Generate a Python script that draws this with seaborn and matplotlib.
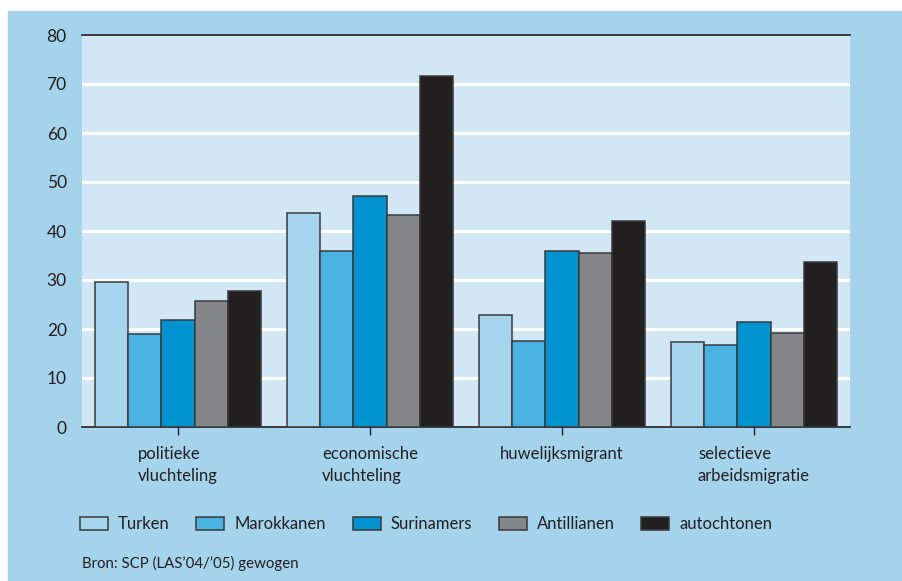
import pandas as pd
import matplotlib.pyplot as plt
import matplotlib.patches as mpatches
import seaborn as sns

categories = ['politieke\nvluchteling', 'economische\nvluchteling',
              'huwelijksmigrant', 'selectieve\narbeidsmigratie']
groups = ['Turken', 'Marokkanen', 'Surinamers', 'Antillianen', 'autochtonen']
turken = [29.6, 43.7, 22.9, 17.3]
marokkanen = [19.0, 35.9, 17.6, 16.7]
surinamers = [21.8, 47.1, 35.9, 21.4]
antillianen = [25.7, 43.3, 35.5, 19.2]
autochtonen = [27.8, 71.6, 42.0, 33.7]
colors = ['#a7d5ee', '#48b3e2', '#0093cf', '#858689', '#231f20']
source = "Bron: SCP (LAS\u201904/\u201905) gewogen"

rows = []
for name, vals in zip(groups, [turken, marokkanen, surinamers, antillianen, autochtonen]):
    for cat, v in zip(categories, vals):
        rows.append({'categorie': cat, 'groep': name, 'waarde': v})
df = pd.DataFrame(rows)

sns.set_theme(style='white')
plt.rcParams['font.family'] = ['Lato', 'DejaVu Sans']

fig = plt.figure(figsize=(9.02, 5.81), dpi=100)
fig.patch.set_facecolor('white')
bg = mpatches.Rectangle((8 / 902, 0), 1 - 8 / 902, 1 - 11 / 581,
                        transform=fig.transFigure, color='#a5d3ec', zorder=-10)
fig.patches.append(bg)

ax = fig.add_axes([82 / 902, 1 - 427 / 581, 768 / 902, 392 / 581])
ax.set_facecolor('#d2e7f5')
sns.barplot(data=df, x='categorie', y='waarde', hue='groep', hue_order=groups,
            order=categories, palette=colors, saturation=1, width=0.86, gap=0,
            edgecolor='#3a3a3a', linewidth=1.1, ax=ax, zorder=3)

ax.set_xlim(-0.5, 3.5)
ax.set_ylim(0, 80)
ax.set_yticks(range(0, 90, 10))
for y in range(10, 80, 10):
    ax.axhline(y, color='white', lw=2.2, zorder=1)
ax.set_xlabel('')
ax.set_ylabel('')
for s in ['left', 'right']:
    ax.spines[s].set_visible(False)
ax.spines['top'].set_color('#231f20')
ax.spines['bottom'].set_color('#231f20')
ax.spines['top'].set_linewidth(1.2)
ax.spines['bottom'].set_linewidth(1.2)
ax.tick_params(axis='y', length=0, pad=11, labelsize=12.5, colors='#231f20')
ax.tick_params(axis='x', length=6, width=1, color='#231f20', pad=8,
               labelsize=12, labelcolor='#231f20', bottom=True, direction='out')
for lab in ax.get_xticklabels():
    lab.set_multialignment('left')
    lab.set_verticalalignment('top')
    lab.set_linespacing(1.45)

ax.get_legend().remove()
handles = [mpatches.Patch(facecolor=c, edgecolor='#3a3a3a', linewidth=1.1, label=g)
           for g, c in zip(groups, colors)]
fig.legend(handles=handles, loc='center left', bbox_to_anchor=(80 / 902, 1 - 524 / 581),
           ncol=5, frameon=False, fontsize=12, handlelength=1.68, handleheight=0.85,
           columnspacing=1.6, handletextpad=0.6, borderpad=0, borderaxespad=0,
           labelcolor='#231f20')
fig.text(82 / 902, 1 - 563 / 581, source, fontsize=10.8, color='#231f20', va='center')

fig.savefig('out.png', dpi=100, facecolor=fig.get_facecolor())
